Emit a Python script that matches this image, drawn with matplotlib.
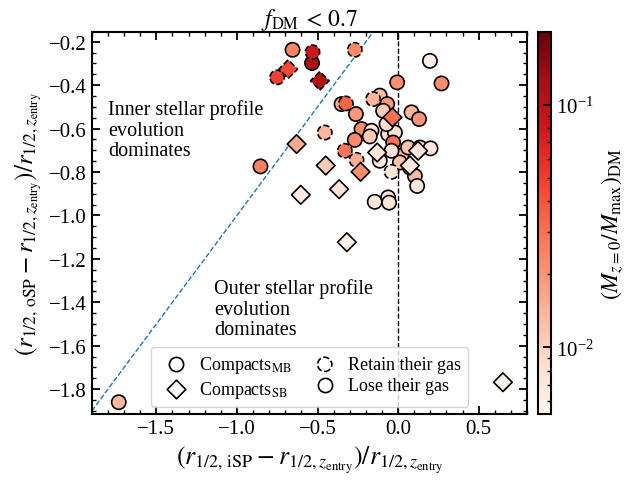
import numpy as np
import matplotlib
matplotlib.use("Agg")
import matplotlib.pyplot as plt
from matplotlib.colors import LogNorm
from matplotlib.ticker import AutoMinorLocator, MultipleLocator

plt.rcParams["font.family"] = ["Liberation Serif", "DejaVu Serif"]
plt.rcParams["mathtext.fontset"] = "stix"

# ---- compacts, multi-burst (circles) that lose their gas ----
mb_lose_x = [-0.655, -0.534, 0.197, -0.006, 0.269, -0.351, -0.262, -0.114, -0.068,
             -0.093, 0.083, 0.130, -0.227, -0.269, -0.165, -0.176, -0.062, -0.020,
             -0.031, -0.072, -0.114, 0.021, 0.062, 0.135, 0.201, 0.073, 0.104, 0.118,
             -0.145, -0.062, -0.056, -0.854, -1.733, 0.011, -0.041]
mb_lose_y = [-0.237, -0.298, -0.288, -0.387, -0.392, -0.487, -0.533, -0.448, -0.487,
             -0.518, -0.525, -0.556, -0.602, -0.652, -0.610, -0.636, -0.625, -0.618,
             -0.664, -0.579, -0.748, -0.725, -0.687, -0.687, -0.691, -0.779, -0.818,
             -0.864, -0.937, -0.917, -0.941, -0.774, -1.860, -0.756, -0.702]
mb_lose_m = [0.024, 0.110, 0.0065, 0.021, 0.022, 0.016, 0.019, 0.013, 0.019,
             0.011, 0.014, 0.020, 0.022, 0.023, 0.008, 0.011, 0.009, 0.008,
             0.030, 0.009, 0.007, 0.014, 0.012, 0.009, 0.007, 0.008, 0.013, 0.007,
             0.007, 0.008, 0.0075, 0.025, 0.014, 0.012, 0.008]

# ---- compacts, multi-burst that retain their gas ----
mb_keep_x = [-0.531, -0.269, -0.751, -0.324, -0.155, -0.455, -0.331, -0.258, -0.041]
mb_keep_y = [-0.248, -0.237, -0.364, -0.484, -0.464, -0.618, -0.702, -0.744, -0.799]
mb_keep_m = [0.080, 0.023, 0.048, 0.034, 0.014, 0.014, 0.028, 0.015, 0.0075]

# ---- compacts, single-burst (diamonds) that lose their gas ----
sb_lose_x = [-0.630, -0.449, -0.604, -0.366, -0.233, -0.035, -0.318, -0.130, 0.124, 0.073, 0.650]
sb_lose_y = [-0.671, -0.770, -0.905, -0.879, -0.799, -0.548, -1.123, -0.710, -0.702, -0.770, -1.768]
sb_lose_m = [0.016, 0.011, 0.0065, 0.0075, 0.022, 0.030, 0.006, 0.0075, 0.0075, 0.007, 0.006]

# ---- compacts, single-burst that retain their gas ----
sb_keep_x = [-0.682, -0.486]
sb_keep_y = [-0.326, -0.380]
sb_keep_m = [0.045, 0.110]

vmin, vmax = 0.0053, 0.2
xlim = (-1.9, 0.8)
ylim = (-1.915, -0.155)

fig = plt.figure(figsize=(6.29, 4.85), dpi=100)
ax = fig.add_axes([0.146, 0.144, 0.692, 0.788])
cax = fig.add_axes([0.855, 0.144, 0.021, 0.788])

norm = LogNorm(vmin=vmin, vmax=vmax)
cmap = "Reds"

# reference lines
line = np.array(xlim)
ax.plot(line, line, ls="--", color="tab:blue", lw=1.0, zorder=1)
ax.axvline(0, ls="--", color="k", lw=1.0, zorder=1)

common = dict(cmap=cmap, norm=norm, edgecolors="k", linewidths=1.2, zorder=3)
sc = ax.scatter(mb_lose_x, mb_lose_y, c=mb_lose_m, marker="o", s=105, **common)
ax.scatter(mb_keep_x, mb_keep_y, c=mb_keep_m, marker="o", s=105, linestyles="--", **common)
ax.scatter(sb_lose_x, sb_lose_y, c=sb_lose_m, marker="D", s=90, **common)
ax.scatter(sb_keep_x, sb_keep_y, c=sb_keep_m, marker="D", s=90, linestyles="--", **common)

ax.text(-1.80, -0.465, "Inner stellar profile\nevolution\ndominates",
        fontsize=14.5, va="top", ha="left", linespacing=1.1)
ax.text(-1.14, -1.29, "Outer stellar profile\nevolution\ndominates",
        fontsize=14.5, va="top", ha="left", linespacing=1.1)

ax.set_xlim(*xlim)
ax.set_ylim(*ylim)
ax.xaxis.set_major_locator(MultipleLocator(0.5))
ax.xaxis.set_minor_locator(AutoMinorLocator(5))
ax.yaxis.set_major_locator(MultipleLocator(0.2))
ax.yaxis.set_minor_locator(AutoMinorLocator(4))
ax.tick_params(which="both", direction="in", top=True, right=True, labelsize=15)
ax.tick_params(which="major", length=6, width=1.3)
ax.tick_params(which="minor", length=3, width=1.0)
for sp in ax.spines.values():
    sp.set_linewidth(1.5)

ax.set_xlabel(r"$(r_{1/2,\,{\rm iSP}} - r_{1/2,z_{\rm entry}})/r_{1/2,z_{\rm entry}}$", fontsize=18.5)
ax.set_ylabel(r"$(r_{1/2,\,{\rm oSP}} - r_{1/2,z_{\rm entry}})/r_{1/2,z_{\rm entry}}$", fontsize=18)
ax.set_title(r"$f_{\rm DM} \, < \, 0.7$", fontsize=17, pad=5)

# legend with open markers
h_mb = ax.scatter([], [], marker="o", s=105, facecolors="white", edgecolors="k", linewidths=1.2)
h_sb = ax.scatter([], [], marker="D", s=90, facecolors="white", edgecolors="k", linewidths=1.2)
h_keep = ax.scatter([], [], marker="o", s=105, facecolors="white", edgecolors="k",
                    linewidths=1.2, linestyles="--")
h_lose = ax.scatter([], [], marker="o", s=105, facecolors="white", edgecolors="k", linewidths=1.2)
ax.legend([h_mb, h_sb, h_keep, h_lose],
          [r"Compacts$_{\rm MB}$", r"Compacts$_{\rm SB}$", "Retain their gas", "Lose their gas"],
          ncol=2, loc="lower center", fontsize=13, handletextpad=0.3,
          columnspacing=0.8, labelspacing=0.2, borderpad=0.4, borderaxespad=0.4)

cb = fig.colorbar(sc, cax=cax)
cb.set_label(r"$(M_{z=0}/M_{\rm max})_{\rm DM}$", fontsize=17, labelpad=4)
cb.ax.tick_params(which="both", direction="in", labelsize=15)
cb.ax.tick_params(which="major", length=6, width=1.3)
cb.ax.tick_params(which="minor", length=3, width=1.0)
cb.outline.set_linewidth(1.5)

fig.savefig("out.png", dpi=100)
